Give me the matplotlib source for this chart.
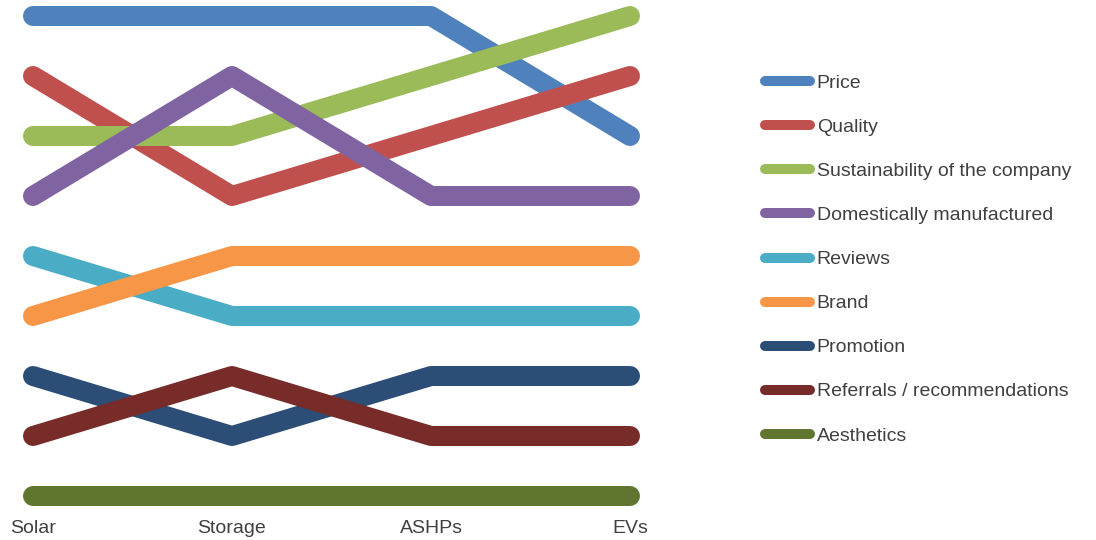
import matplotlib.pyplot as plt
from matplotlib.lines import Line2D

plt.rcParams["font.family"] = ["Liberation Sans", "DejaVu Sans"]

# data: rank of each factor per technology (1 = top)
techs = ["Solar", "Storage", "ASHPs", "EVs"]
factors = ["Price", "Quality", "Sustainability of the company",
           "Domestically manufactured", "Reviews", "Brand", "Promotion",
           "Referrals / recommendations", "Aesthetics"]
price = [1, 1, 1, 3]
quality = [2, 4, 3, 2]
sustainability = [3, 3, 2, 1]
domestic = [4, 2, 4, 4]
reviews = [5, 6, 6, 6]
brand = [6, 5, 5, 5]
promotion = [7, 8, 7, 7]
referrals = [8, 7, 8, 8]
aesthetics = [9, 9, 9, 9]

colors = ["#4F81BD", "#C0504D", "#9BBB59", "#8064A2", "#4BACC6",
          "#F79646", "#2C4D75", "#772C2A", "#5F7530"]


def main():
    ranks = [price, quality, sustainability, domestic, reviews, brand,
             promotion, referrals, aesthetics]
    W, H = 1096, 540
    fig = plt.figure(figsize=(W / 100, H / 100), dpi=100)
    ax = fig.add_axes([33 / W, (H - 496) / H, (630 - 33) / W, 480 / H])

    x = range(len(techs))
    for i, (name, r) in enumerate(zip(factors, ranks)):
        ax.plot(x, r, color=colors[i], linewidth=14.4, solid_capstyle="round",
                solid_joinstyle="round", clip_on=False, label=name, zorder=2 + i)

    ax.set_xlim(0, 3)
    ax.set_ylim(9, 1)
    for s in ax.spines.values():
        s.set_visible(False)
    ax.set_yticks([])
    ax.set_xticks(list(x))
    ax.set_xticklabels(techs, fontsize=14, color="#404040")
    ax.tick_params(axis="x", length=0, pad=17)

    handles = [Line2D([0], [0], color=c, linewidth=7.2, solid_capstyle="round")
               for c in colors]
    fig.legend(handles, factors, loc="upper left",
               bbox_to_anchor=(765 / W, 1 - 74.5 / H), frameon=False,
               fontsize=14, handlelength=2.3, handletextpad=0.36,
               labelspacing=1.36, borderpad=0, borderaxespad=0,
               labelcolor="#404040")

    fig.savefig("out.png", dpi=100)


if __name__ == "__main__":
    main()
